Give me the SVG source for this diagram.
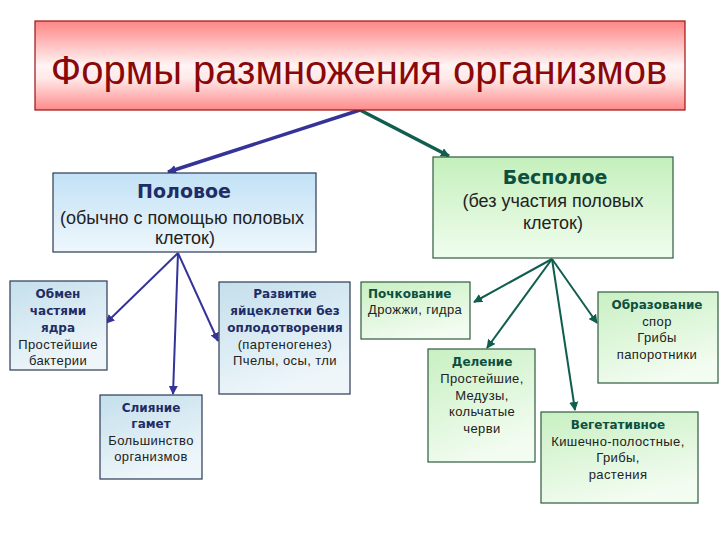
<svg xmlns="http://www.w3.org/2000/svg" width="720" height="540" viewBox="0 0 720 540">
<defs>
<linearGradient id="gTitle" x1="0" y1="0" x2="0" y2="1">
<stop offset="0" stop-color="#ff8585"/>
<stop offset="0.5" stop-color="#fff4f4"/>
<stop offset="0.65" stop-color="#ffe8e8"/>
<stop offset="1" stop-color="#ff8a8a"/>
</linearGradient>
<linearGradient id="gBlue" x1="0" y1="0" x2="0" y2="1">
<stop offset="0" stop-color="#c2e1f6"/>
<stop offset="1" stop-color="#eef7fc"/>
</linearGradient>
<linearGradient id="gBlue2" x1="0" y1="0" x2="0.4" y2="1">
<stop offset="0" stop-color="#c4dfec"/>
<stop offset="1" stop-color="#eef6fa"/>
</linearGradient>
<linearGradient id="gGreen" x1="0" y1="0" x2="0" y2="1">
<stop offset="0" stop-color="#c4f0bc"/>
<stop offset="1" stop-color="#f0fdee"/>
</linearGradient>
<linearGradient id="gGreen2" x1="0" y1="0" x2="0.4" y2="1">
<stop offset="0" stop-color="#c8f0c2"/>
<stop offset="1" stop-color="#f2fcf0"/>
</linearGradient>
<marker id="aBlue" viewBox="0 0 10 10" refX="9" refY="5" markerWidth="9" markerHeight="9" markerUnits="userSpaceOnUse" orient="auto">
<path d="M0,0 L10,5 L0,10 z" fill="#333399"/>
</marker>
<marker id="aGreen" viewBox="0 0 10 10" refX="9" refY="5" markerWidth="9" markerHeight="9" markerUnits="userSpaceOnUse" orient="auto">
<path d="M0,0 L10,5 L0,10 z" fill="#0f5e4e"/>
</marker>
</defs>
<style>
.title{font-family:"Liberation Sans",Arial,sans-serif;font-size:40px;fill:#8b0808;text-anchor:middle}
.box-b{stroke:#2b3a55;stroke-width:1.2}
.box-g{stroke:#2f5a40;stroke-width:1.2}
.hb{font-family:"DejaVu Sans",Verdana,sans-serif;font-weight:bold;font-size:19px;fill:#1f2d66;text-anchor:middle}
.hg{font-family:"DejaVu Sans",Verdana,sans-serif;font-weight:bold;font-size:19px;fill:#0d5040;text-anchor:middle}
.sub{font-family:"Liberation Sans",Arial,sans-serif;font-size:18px;fill:#222;text-anchor:middle}
.sb{font-family:"DejaVu Sans",Verdana,sans-serif;font-weight:bold;font-size:12px;fill:#1f2d66;text-anchor:middle}
.sg{font-family:"DejaVu Sans",Verdana,sans-serif;font-weight:bold;font-size:12px;fill:#0d5040;text-anchor:middle}
.st{font-family:"Liberation Sans",Arial,sans-serif;font-size:13px;fill:#222;text-anchor:middle;letter-spacing:0.4px}
.lb{stroke:#333399;fill:none}
.lg{stroke:#0f5e4e;fill:none}
</style>

<g id="connectors">
<line class="lb" x1="360" y1="110" x2="168" y2="172" stroke-width="3.5" marker-end="url(#aBlue)"/>
<line class="lg" x1="360" y1="110" x2="449" y2="156" stroke-width="3.5" marker-end="url(#aGreen)"/>
<line class="lb" x1="178" y1="253" x2="106" y2="323" stroke-width="2" marker-end="url(#aBlue)"/>
<line class="lb" x1="178" y1="253" x2="173" y2="394" stroke-width="2" marker-end="url(#aBlue)"/>
<line class="lb" x1="178" y1="253" x2="218" y2="341" stroke-width="2" marker-end="url(#aBlue)"/>
<line class="lg" x1="552" y1="259" x2="474" y2="302" stroke-width="2" marker-end="url(#aGreen)"/>
<line class="lg" x1="552" y1="259" x2="487" y2="348" stroke-width="2" marker-end="url(#aGreen)"/>
<line class="lg" x1="552" y1="259" x2="575" y2="410" stroke-width="2" marker-end="url(#aGreen)"/>
<line class="lg" x1="552" y1="259" x2="597" y2="323" stroke-width="2" marker-end="url(#aGreen)"/>
</g>

<g id="title">
<rect x="35" y="21" width="650" height="89" fill="url(#gTitle)" stroke="#a01010" stroke-width="1.2"/>
<text class="title" x="359" y="84">Формы размножения организмов</text>
</g>

<g id="polovoe">
<rect class="box-b" x="53" y="173" width="263" height="79" fill="url(#gBlue)"/>
<text class="hb" x="184" y="198">Половое</text>
<text class="sub" x="182" y="224">(обычно с помощью половых</text>
<text class="sub" x="185" y="244">клеток)</text>
</g>

<g id="bespoloe">
<rect class="box-g" x="433" y="157" width="240" height="101" fill="url(#gGreen)"/>
<text class="hg" x="555" y="184">Бесполое</text>
<text class="sub" x="553" y="207">(без участия половых</text>
<text class="sub" x="553" y="229">клеток)</text>
</g>

<g id="obmen">
<rect class="box-b" x="10" y="281" width="97" height="89" fill="url(#gBlue2)"/>
<text class="sb" x="58" y="298">Обмен</text>
<text class="sb" x="58" y="315">частями</text>
<text class="sb" x="58" y="332">ядра</text>
<text class="st" x="58" y="349">Простейшие</text>
<text class="st" x="58" y="365">бактерии</text>
</g>

<g id="razvitie">
<rect class="box-b" x="219" y="282" width="131" height="112" fill="url(#gBlue2)"/>
<text class="sb" x="285" y="298">Развитие</text>
<text class="sb" x="285" y="315">яйцеклетки без</text>
<text class="sb" x="285" y="332">оплодотворения</text>
<text class="st" x="285" y="349">(партеногенез)</text>
<text class="st" x="285" y="365">Пчелы, осы, тли</text>
</g>

<g id="sliyanie">
<rect class="box-b" x="100" y="395" width="102" height="84" fill="url(#gBlue2)"/>
<text class="sb" x="151" y="412">Слияние</text>
<text class="sb" x="151" y="428">гамет</text>
<text class="st" x="151" y="445">Большинство</text>
<text class="st" x="151" y="461">организмов</text>
</g>

<g id="pochkovanie">
<rect class="box-g" x="361" y="282" width="109" height="57" fill="url(#gGreen2)"/>
<text class="sg" x="368" y="298" style="text-anchor:start">Почкование</text>
<text class="st" x="368" y="314" style="text-anchor:start">Дрожжи, гидра</text>
</g>

<g id="delenie">
<rect class="box-g" x="428" y="349" width="107" height="113" fill="url(#gGreen2)"/>
<text class="sg" x="482" y="366">Деление</text>
<text class="st" x="482" y="383">Простейшие,</text>
<text class="st" x="482" y="400">Медузы,</text>
<text class="st" x="482" y="416">кольчатые</text>
<text class="st" x="482" y="433">черви</text>
</g>

<g id="obrazovanie">
<rect class="box-g" x="598" y="292" width="120" height="91" fill="url(#gGreen2)"/>
<text class="sg" x="657" y="309">Образование</text>
<text class="st" x="657" y="326">спор</text>
<text class="st" x="657" y="342">Грибы</text>
<text class="st" x="657" y="359">папоротники</text>
</g>

<g id="vegetativnoe">
<rect class="box-g" x="541" y="412" width="157" height="91" fill="url(#gGreen2)"/>
<text class="sg" x="618" y="429">Вегетативное</text>
<text class="st" x="618" y="446">Кишечно-полостные,</text>
<text class="st" x="618" y="462">Грибы,</text>
<text class="st" x="618" y="479">растения</text>
</g>
</svg>
